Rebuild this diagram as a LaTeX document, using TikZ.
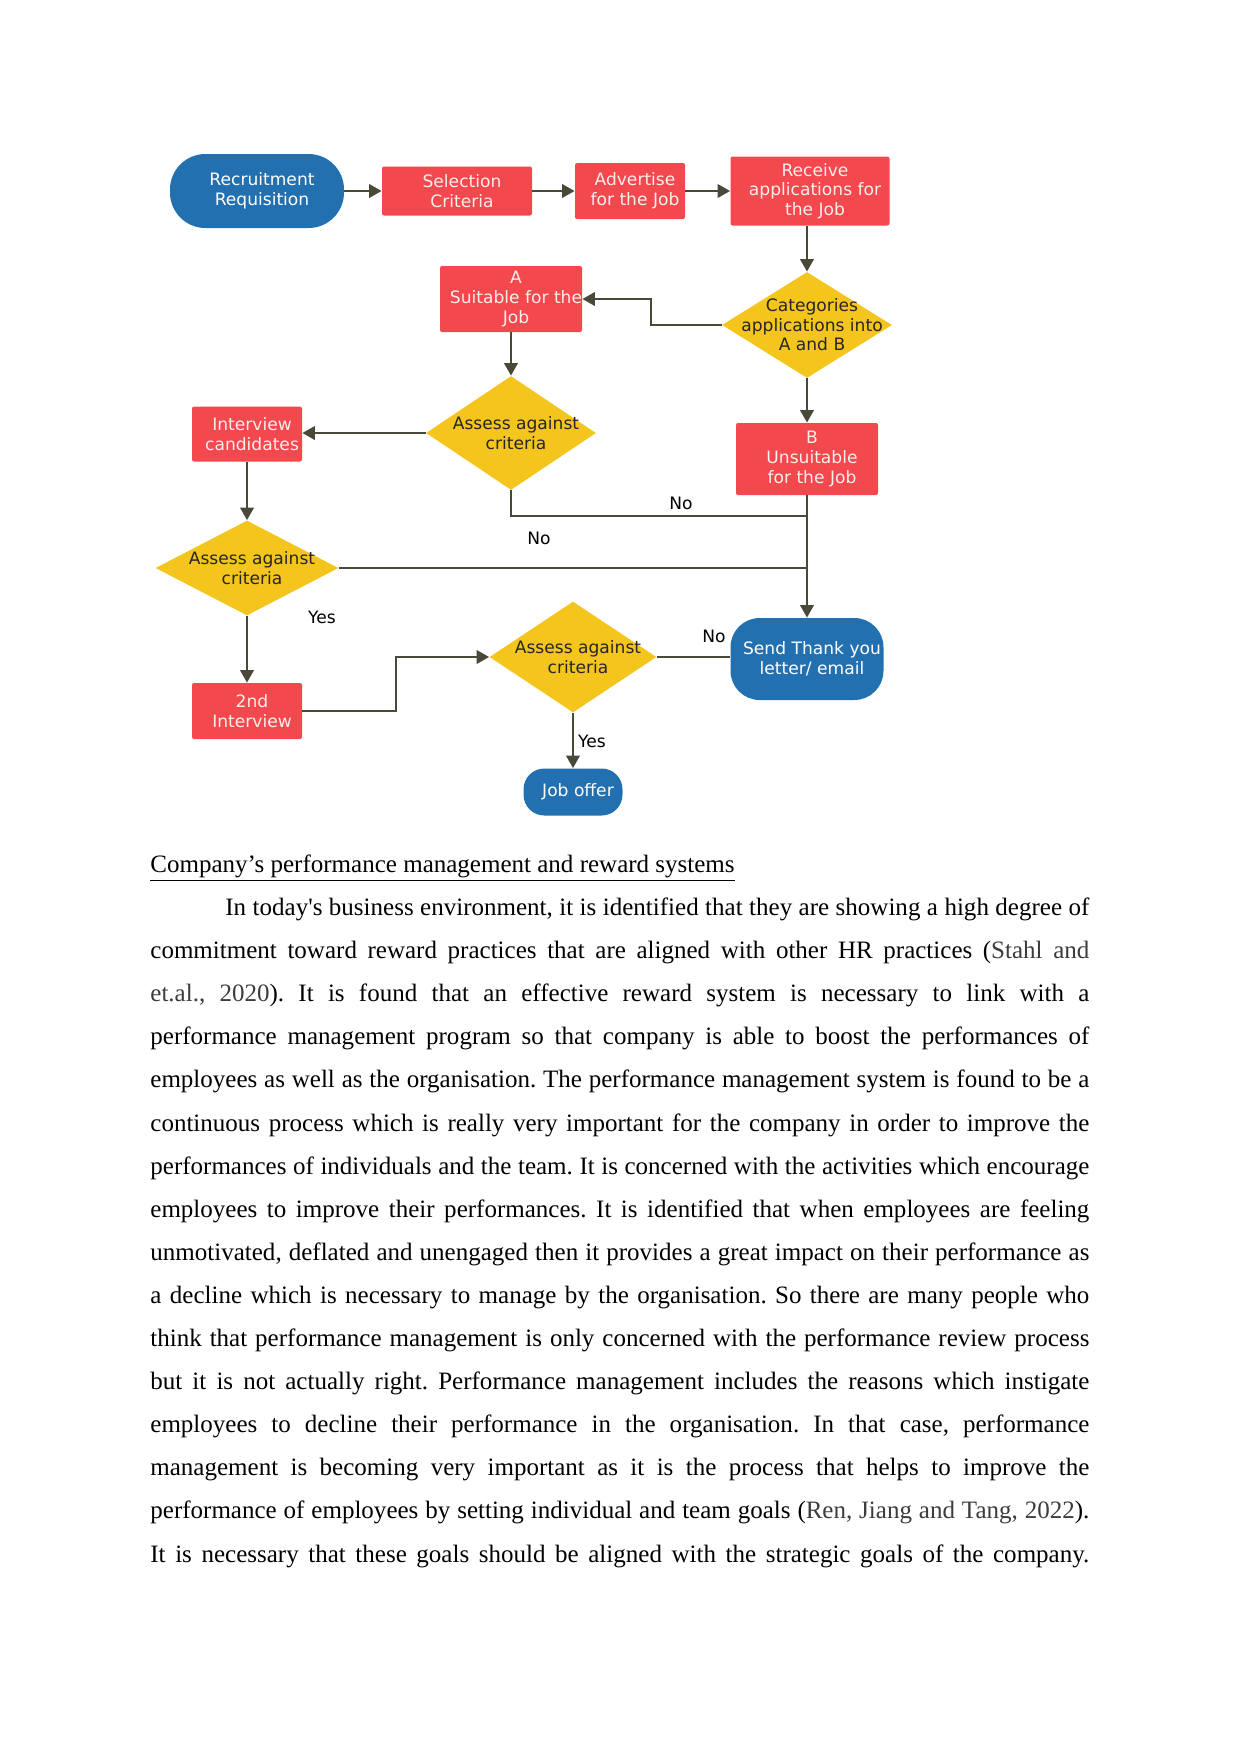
\documentclass[tikz,border=0pt]{standalone}
\usepackage{fontspec}
\setmainfont{Liberation Serif}
\newfontfamily\dfont{DejaVu Sans}
\usetikzlibrary{arrows.meta,shapes.geometric}
\newlength\pu \setlength\pu{0.47967pt}
\definecolor{fcblue}{HTML}{2270B0}
\definecolor{fcred}{HTML}{F3484D}
\definecolor{fcyel}{HTML}{F4C51C}
\definecolor{fcline}{HTML}{4A4838}
\definecolor{fctxt}{HTML}{FDEDED}
\definecolor{citegray}{HTML}{3C3C3C}
\newcommand{\dsize}{\dfont\fontsize{8.2}{9.4}\selectfont}
\newcommand{\bodyline}[1]{\makebox[450.4pt][s]{#1}}
\frenchspacing
\begin{document}
\begin{tikzpicture}[x=0.47967pt,y=-0.47967pt,
  redbox/.style={rectangle, fill=fcred, inner sep=0pt, rounded corners=1pt},
  term/.style={rectangle, fill=fcblue, inner sep=0pt},
  dec/.style={diamond, fill=fcyel, inner sep=0pt},
  rlab/.style={align=center, font=\dsize, text=fctxt, xshift=2.4pt},
  blab/.style={align=center, font=\dsize, text=white, xshift=2.4pt},
  dlab/.style={align=center, font=\dsize, text=black!85, xshift=2.4pt},
  arr/.style={draw=fcline, line width=1pt, -{Triangle[length=6pt,width=6.5pt]}},
  ln/.style={draw=fcline, line width=1pt},
  elab/.style={font=\dsize, text=black, inner sep=0pt},
  body/.style={anchor=base west, inner sep=0pt, font=\fontsize{12}{14}\selectfont}]
\useasboundingbox[fill=white] (0,0) rectangle (1241,1754);

% ---- flowchart nodes ----
\node[term, rounded corners=17pt, minimum width=174\pu, minimum height=74\pu, label={[blab]center:{Recruitment\\Requisition}}] (rr) at (257,191) {};
\node[redbox, minimum width=150\pu, minimum height=49\pu, label={[rlab]center:{Selection\\Criteria}}] (sc) at (457,191) {};
\node[redbox, minimum width=110\pu, minimum height=56\pu, label={[rlab]center:{Advertise\\for the Job}}] (adv) at (630,191) {};
\node[redbox, minimum width=159\pu, minimum height=69\pu, label={[rlab]center:{Receive\\applications for\\the Job}}] (rcv) at (810,191) {};
\node[dec, minimum width=170\pu, minimum height=106\pu, label={[dlab]center:{Categories\\applications into\\A and B}}] (cat) at (807,325) {};
\node[redbox, minimum width=142\pu, minimum height=66\pu, label={[rlab]center:{A\\Suitable for the\\Job}}] (a) at (511,299) {};
\node[dec, minimum width=170\pu, minimum height=114\pu, label={[dlab]center:{Assess against\\criteria}}] (d1) at (511,433) {};
\node[redbox, minimum width=110\pu, minimum height=55\pu, label={[rlab]center:{Interview\\candidates}}] (iv) at (247,434) {};
\node[redbox, minimum width=142\pu, minimum height=72\pu, label={[rlab]center:{B\\Unsuitable\\for the Job}}] (b) at (807,459) {};
\node[dec, minimum width=183\pu, minimum height=95\pu, label={[dlab]center:{Assess against\\criteria}}] (d2) at (247,568) {};
\node[term, rounded corners=14pt, minimum width=153\pu, minimum height=82\pu, label={[blab]center:{Send Thank you\\letter/ email}}] (thx) at (807,659) {};
\node[dec, minimum width=167\pu, minimum height=111\pu, label={[dlab]center:{Assess against\\criteria}}] (d3) at (573,657) {};
\node[redbox, minimum width=110\pu, minimum height=56\pu, label={[rlab]center:{2nd\\Interview}}] (iv2) at (247,711) {};
\node[term, rounded corners=10pt, minimum width=99\pu, minimum height=47\pu, label={[blab]center:{Job offer}}] (job) at (573,792) {};

% ---- connectors ----
\draw[arr] (rr.east) -- (sc.west);
\draw[arr] (sc.east) -- (adv.west);
\draw[arr] (adv.east) -- (rcv.west);
\draw[arr] (rcv.south -| cat.north) -- (cat.north);
\draw[arr] (cat.west) -- ++(-71,0) |- (a.east);
\draw[arr] (a.south) -- (d1.north);
\draw[arr] (d1.west) -- (d1.west -| iv.east);
\draw[arr] (iv.south) -- (d2.north);
\draw[arr] (cat.south) -- (b.north);
\draw[arr] (b.south) -- (thx.north);
\draw[ln] (d1.south) -- ++(0,26) -| (b.south);
\draw[ln] (d2.east) -- (d2.east -| b.south);
\draw[arr] (d2.south) -- (iv2.north);
\draw[arr] (iv2.east) -- ++(94,0) |- (d3.west);
\draw[ln] (d3.east) -- (d3.east -| thx.west);
\draw[arr] (d3.south) -- (job.north);

% ---- connector labels ----
\node[elab] (no1) at (681,503) {No};
\node[elab] (no2) at (539,538) {No};
\node[elab] (yes1) at (322,617) {Yes};
\node[elab] (no3) at (714,636) {No};
\node[elab] (yes2) at (592,741) {Yes};

% ---- text ----
\node[body] (hd) at (150,872) {\underline{Company’s performance management and reward systems}};
\node[body] (l1) at (225,915.5) {\makebox[414.4pt][s]{In today\textquotesingle s business environment, it is identified that they are showing a high degree of}};
\node[body] (l2) at (150,958.6) {\bodyline{commitment toward reward practices that are aligned with other HR practices ({\color{citegray}Stahl and}}};
\node[body] (l3) at (150,1001.7) {\bodyline{{\color{citegray}et.al., 2020}). It is found that an effective reward system is necessary to link with a}};
\node[body] (l4) at (150,1044.8) {\bodyline{performance management program so that company is able to boost the performances of}};
\node[body] (l5) at (150,1087.9) {\bodyline{employees as well as the organisation. The performance management system is found to be a}};
\node[body] (l6) at (150,1131.0) {\bodyline{continuous process which is really very important for the company in order to improve the}};
\node[body] (l7) at (150,1174.1) {\bodyline{performances of individuals and the team. It is concerned with the activities which encourage}};
\node[body] (l8) at (150,1217.2) {\bodyline{employees to improve their performances. It is identified that when employees are feeling}};
\node[body] (l9) at (150,1260.3) {\bodyline{unmotivated, deflated and unengaged then it provides a great impact on their performance as}};
\node[body] (l10) at (150,1303.4) {\bodyline{a decline which is necessary to manage by the organisation. So there are many people who}};
\node[body] (l11) at (150,1346.5) {\bodyline{think that performance management is only concerned with the performance review process}};
\node[body] (l12) at (150,1389.6) {\bodyline{but it is not actually right. Performance management includes the reasons which instigate}};
\node[body] (l13) at (150,1432.7) {\bodyline{employees to decline their performance in the organisation. In that case, performance}};
\node[body] (l14) at (150,1475.8) {\bodyline{management is becoming very important as it is the process that helps to improve the}};
\node[body] (l15) at (150,1518.9) {\bodyline{performance of employees by setting individual and team goals ({\color{citegray}Ren, Jiang and Tang, 2022}).}};
\node[body] (l16) at (150,1562.0) {\bodyline{It is necessary that these goals should be aligned with the strategic goals of the company.}};
\end{tikzpicture}
\end{document}
